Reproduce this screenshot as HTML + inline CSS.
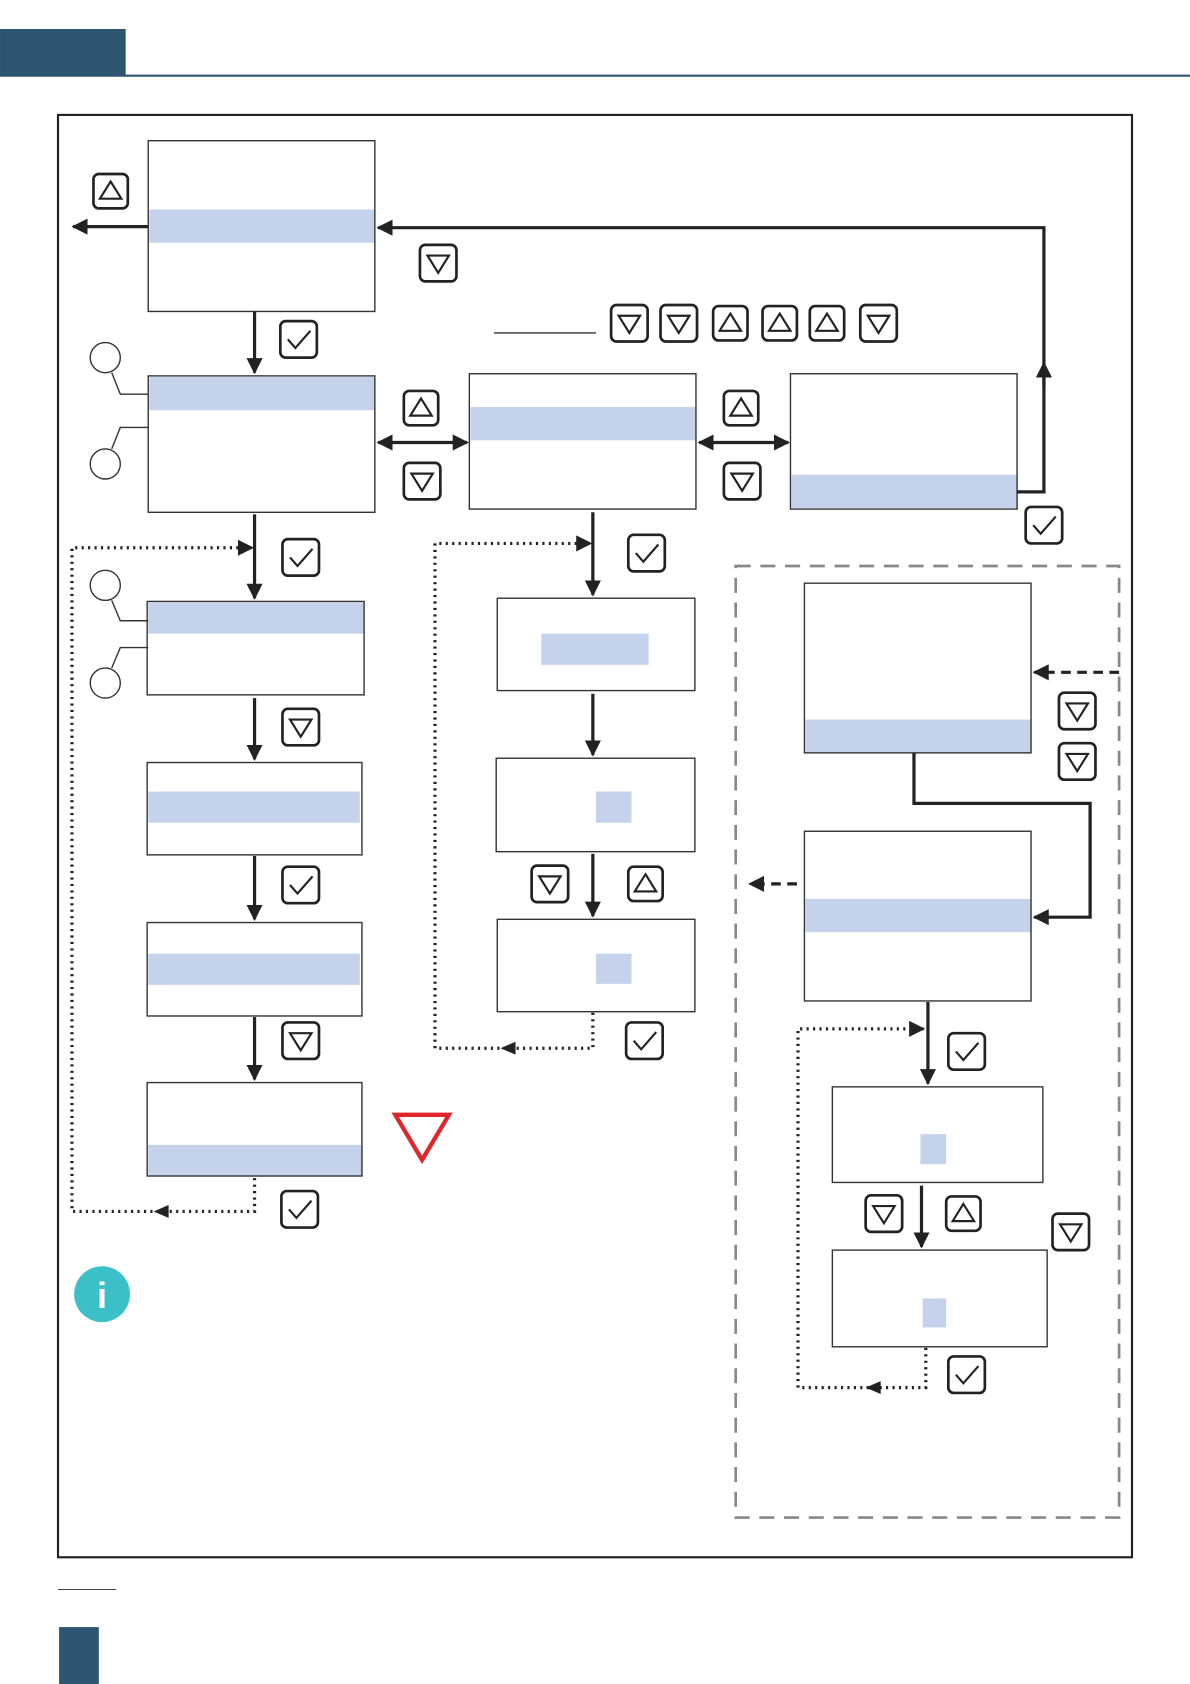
<!DOCTYPE html>
<html><head><meta charset="utf-8"><style>html,body{margin:0;padding:0;background:#fff}svg{display:block}</style></head>
<body>
<svg width="1190" height="1684" viewBox="0 0 1108 1568" xmlns="http://www.w3.org/2000/svg" font-family="Liberation Sans, sans-serif">
<defs>
<marker id="ah" viewBox="0 0 10 10" refX="9" refY="5" markerWidth="5" markerHeight="5" orient="auto-start-reverse"><path d="M0,0 L10,5 L0,10 z" fill="#222"/></marker>
<g id="chk"><rect x="-17" y="-17" width="34" height="34" rx="5" fill="#fff" stroke="#222" stroke-width="2.5"/><path d="M-10,0 L-3,8 L11,-8" fill="none" stroke="#222" stroke-width="2"/></g>
<g id="up"><rect x="-16" y="-16" width="32" height="32" rx="5" fill="#fff" stroke="#222" stroke-width="2.5"/><path d="M0,-9 L10,7 L-10,7 z" fill="none" stroke="#222" stroke-width="2"/></g>
<g id="dn"><rect x="-17" y="-17" width="34" height="34" rx="5" fill="#fff" stroke="#222" stroke-width="2.5"/><path d="M-10,-7 L10,-7 L0,9 z" fill="none" stroke="#222" stroke-width="2"/></g>
</defs>
<rect x="0" y="27" width="117" height="44" fill="#2e5570"/>
<line x1="0" y1="70.5" x2="1108" y2="70.5" stroke="#2e5570" stroke-width="2"/>
<rect x="54" y="107" width="1000" height="1343" fill="none" stroke="#222" stroke-width="2"/>
<line x1="54" y1="1480" x2="108" y2="1480" stroke="#444" stroke-width="1"/>
<rect x="55" y="1515" width="37" height="53" fill="#2e5570"/>
<rect x="685" y="527" width="357" height="886" fill="none" stroke="#888" stroke-width="2.5" stroke-dasharray="14,9"/>
<g fill="#c5d2ec">
<rect x="139" y="195" width="210" height="31"/><rect x="139" y="351" width="210" height="31"/>
<rect x="438" y="379" width="210" height="31"/><rect x="737" y="442" width="210" height="31"/>
<rect x="138" y="561" width="201" height="29"/><rect x="138" y="737" width="197" height="29"/>
<rect x="138" y="888" width="197" height="29"/><rect x="138" y="1066" width="199" height="29"/>
<rect x="504" y="590" width="100" height="29"/><rect x="555" y="737" width="33" height="29"/>
<rect x="555" y="888" width="33" height="28"/><rect x="750" y="670" width="210" height="31"/>
<rect x="750" y="837" width="210" height="31"/><rect x="857" y="1056" width="24" height="28"/>
<rect x="859" y="1209" width="22" height="27"/>
</g>
<g fill="none" stroke="#333" stroke-width="1.3">
<rect x="138" y="131" width="211" height="159"/><rect x="138" y="350" width="211" height="127"/>
<rect x="437" y="348" width="211" height="126"/><rect x="736" y="348" width="211" height="126"/>
<rect x="137" y="560" width="202" height="87"/><rect x="137" y="710" width="200" height="86"/>
<rect x="137" y="859" width="200" height="87"/><rect x="137" y="1008" width="200" height="87"/>
<rect x="463" y="557" width="184" height="86"/><rect x="462" y="706" width="185" height="87"/>
<rect x="463" y="856" width="184" height="86"/><rect x="749" y="543" width="211" height="158"/>
<rect x="749" y="774" width="211" height="158"/><rect x="775" y="1012" width="196" height="89"/>
<rect x="775" y="1164" width="200" height="90"/>
<line x1="460" y1="310" x2="555" y2="310"/>
<circle cx="98" cy="333" r="14"/><circle cx="98" cy="432" r="14"/><circle cx="98" cy="545" r="14"/><circle cx="98" cy="636" r="14"/>
<polyline points="104,347 112,367 138,367"/><polyline points="104,418 112,398 138,398"/>
<polyline points="104,559 112,578 138,578"/><polyline points="104,622 112,603 138,603"/>
</g>
<g fill="none" stroke="#222" stroke-width="3">
<line x1="138" y1="211" x2="68" y2="211" marker-end="url(#ah)"/>
<polyline points="947,458 972,458 972,212 352,212" marker-end="url(#ah)"/>
<line x1="972" y1="360" x2="972" y2="338" marker-end="url(#ah)"/>
<line x1="237" y1="290" x2="237" y2="347" marker-end="url(#ah)"/>
<line x1="352" y1="412" x2="435" y2="412" marker-start="url(#ah)" marker-end="url(#ah)"/>
<line x1="651" y1="412" x2="734" y2="412" marker-start="url(#ah)" marker-end="url(#ah)"/>
<line x1="237" y1="479" x2="237" y2="557" marker-end="url(#ah)"/>
<line x1="237" y1="650" x2="237" y2="707" marker-end="url(#ah)"/>
<line x1="237" y1="797" x2="237" y2="856" marker-end="url(#ah)"/>
<line x1="237" y1="947" x2="237" y2="1005" marker-end="url(#ah)"/>
<line x1="552" y1="477" x2="552" y2="554" marker-end="url(#ah)"/>
<line x1="552" y1="646" x2="552" y2="703" marker-end="url(#ah)"/>
<line x1="552" y1="795" x2="552" y2="853" marker-end="url(#ah)"/>
<polyline points="851,701 851,748 1015,748 1015,854 963,854" marker-end="url(#ah)"/>
<line x1="864" y1="933" x2="864" y2="1009" marker-end="url(#ah)"/>
<line x1="858" y1="1104" x2="858" y2="1161" marker-end="url(#ah)"/>
</g>
<g fill="none" stroke="#222" stroke-width="3" stroke-dasharray="9,6">
<line x1="1042" y1="626" x2="963" y2="626" marker-end="url(#ah)"/>
<line x1="742" y1="823" x2="698" y2="823" marker-end="url(#ah)"/>
</g>
<g fill="none" stroke="#222" stroke-width="3" stroke-dasharray="2,4">
<polyline points="237,1097 237,1128 67,1128 67,510 235,510" marker-end="url(#ah)"/>
<polyline points="552,943 552,976 405,976 405,506 550,506" marker-end="url(#ah)"/>
<polyline points="862,1255 862,1292 743,1292 743,958 860,958" marker-end="url(#ah)"/>
</g>
<g fill="#222">
<path d="M143,1128 l14,-6 v12 z"/><path d="M466,976 l14,-6 v12 z"/><path d="M806,1292 l14,-6 v12 z"/>
</g>
<use href="#up" x="103" y="178"/><use href="#dn" x="408" y="245"/><use href="#chk" x="278" y="316"/>
<use href="#dn" x="586" y="301"/><use href="#dn" x="632" y="301"/><use href="#up" x="680" y="301"/>
<use href="#up" x="726" y="301"/><use href="#up" x="770" y="301"/><use href="#dn" x="818" y="301"/>
<use href="#up" x="392" y="380"/><use href="#dn" x="393" y="448"/>
<use href="#up" x="690" y="380"/><use href="#dn" x="691" y="448"/>
<use href="#chk" x="972" y="489"/><use href="#chk" x="280" y="519"/><use href="#chk" x="602" y="515"/>
<use href="#dn" x="280" y="677"/><use href="#chk" x="280" y="824"/><use href="#dn" x="280" y="969"/>
<use href="#chk" x="279" y="1126"/><use href="#dn" x="512" y="823"/><use href="#up" x="601" y="823"/>
<use href="#chk" x="600" y="969"/><use href="#dn" x="1003" y="662"/><use href="#dn" x="1003" y="709"/>
<use href="#chk" x="900" y="979"/><use href="#dn" x="823" y="1130"/><use href="#up" x="897" y="1130"/>
<use href="#dn" x="997" y="1147"/><use href="#chk" x="900" y="1280"/>
<path d="M368,1038 L418,1038 L393,1080 z" fill="none" stroke="#e0262b" stroke-width="4"/>
<circle cx="95" cy="1205" r="26" fill="#3bbfc9"/>
<text x="95" y="1218" text-anchor="middle" font-size="34" font-weight="bold" fill="#fff">i</text>
</svg>
</body></html>
